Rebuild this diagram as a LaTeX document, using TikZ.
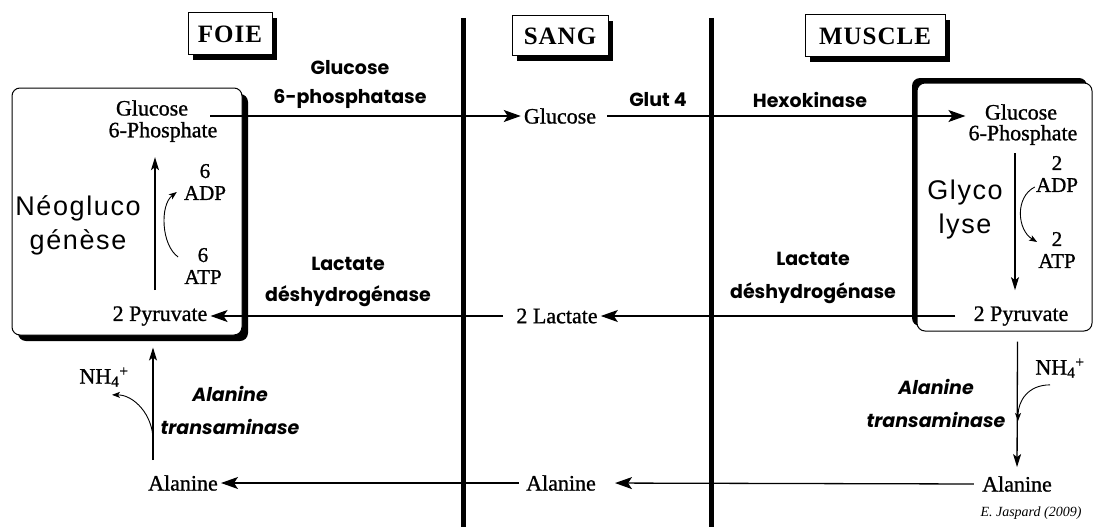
\documentclass[tikz,border=0pt]{standalone}
\usepackage{fontspec}
\setmainfont{Liberation Serif}
\newfontfamily\chemf{Liberation Serif}[FakeBold=1]
\newfontfamily\comicf{Poppins}
\newfontfamily\sansf{Liberation Sans}[LetterSpace=6]
\newfontfamily\titlef{Liberation Serif}[LetterSpace=4]
\usetikzlibrary{arrows.meta,shadows}
\begin{document}
\begin{tikzpicture}[x=1pt,y=-1pt,
  chem/.style={font=\chemf\fontsize{22}{24}\selectfont, inner sep=3pt, align=center},
  cof/.style={font=\chemf\fontsize{21}{22}\selectfont, inner sep=1pt, align=center},
  enz/.style={font=\comicf\bfseries\fontsize{19}{29}\selectfont, align=center, inner sep=0pt},
  enzi/.style={font=\comicf\bfseries\itshape\fontsize{19}{33}\selectfont, align=center, inner sep=0pt},
  proc/.style={font=\sansf\fontsize{27}{34}\selectfont, align=center, inner sep=0pt},
  title/.style={draw, line width=1pt, fill=white, font=\titlef\bfseries\fontsize{25}{26}\selectfont,
    drop shadow={shadow xshift=5pt, shadow yshift=-5pt, fill=black, opacity=1}},
  organbox/.style={draw, line width=1pt, fill=white, rounded corners=8pt},
  harr/.style={line width=1.3pt, -{Stealth[length=17pt,width=12pt,inset=4pt]}},
  varr/.style={line width=1.3pt, -{Stealth[length=13pt,width=8pt,inset=3pt]}},
  carr/.style={line width=0.9pt, -{Stealth[length=8pt,width=6pt,inset=2pt]}},
  bar/.style={line width=5pt}
]
\useasboundingbox[fill=white] (0,0) rectangle (1094,527);

% compartment separators
\draw[bar] (463,18) -- (463,527);
\draw[bar] (711,18) -- (711,527);

% organ boxes
\node[organbox, minimum width=230pt, minimum height=247pt,
  drop shadow={shadow xshift=6pt, shadow yshift=-6pt, fill=black, opacity=1}] (fbox) at (127,211.5) {};
\node[organbox, minimum width=175pt, minimum height=248pt,
  drop shadow={shadow xshift=-5pt, shadow yshift=5pt, fill=black, opacity=1}] (mbox) at (1004.5,207) {};

% titles
\node[title, minimum width=84pt, minimum height=42pt] (tfoie) at (230,34) {FOIE};
\node[title, minimum width=96pt, minimum height=40pt] (tsang) at (560,36) {SANG};
\node[title, minimum width=140pt, minimum height=42pt] (tmus) at (875,36) {MUSCLE};

% metabolites
\node[chem] (fglc) at (152,108) {Glucose};
\node[chem] (fg6) at (163,132) {6-Phosphate};
\node[chem] (sglc) at (560,116) {Glucose};
\node[chem] (mglc) at (1021,112) {Glucose};
\node[chem] (mg6) at (1023,135) {6-Phosphate};
\node[chem] (fpyr) at (160,316) {2 Pyruvate};
\node[chem] (slac) at (557,316) {2 Lactate};
\node[chem] (mpyr) at (1021,316) {2 Pyruvate};
\node[chem] (falan) at (183,483) {Alanine};
\node[chem] (salan) at (561,483) {Alanine};
\node[chem] (malan) at (1017,484) {Alanine};
\node[chem] (fnh) at (104,377) {NH\textsubscript{4}\textsuperscript{+}};
\node[chem] (mnh) at (1060,368) {NH\textsubscript{4}\textsuperscript{+}};

% cofactors
\node[cof] (fadp) at (205,182) {6\\ADP};
\node[cof] (fatp) at (203,266) {6\\ATP};
\node[cof] (madp) at (1057,174) {2\\ADP};
\node[cof] (matp) at (1057,250) {2\\ATP};

% pathways
\node[proc] (neo) at (78,225) {Néogluco\\génèse};
\node[proc] (gly) at (965,210) {Glyco\\lyse};

% enzymes
\node[enz] (e1) at (350,84) {Glucose\\6-phosphatase};
\node[enz] (e2) at (658,100) {Glut 4};
\node[enz] (e3) at (810,100) {Hexokinase};
\node[enz, font=\comicf\bfseries\fontsize{19}{31}\selectfont] (e4) at (348,282) {Lactate\\déshydrogénase};
\node[enz, font=\comicf\bfseries\fontsize{19}{33}\selectfont] (e5) at (813,278) {Lactate\\déshydrogénase};
\node[enzi] (e6) at (230,410) {Alanine\\transaminase};
\node[enzi] (e7) at (936,403) {Alanine\\transaminase};

\node[font=\itshape\fontsize{14}{16}\selectfont, inner sep=0pt] (cred) at (1031,513) {E. Jaspard (2009)};

% free ends
\coordinate (fout) at (210,116);
\coordinate (fnhstart) at (153,440);
\coordinate (mnhend) at (1018,421);

% horizontal connectors
\draw[harr] (fout) -- (sglc.west);
\draw[harr, shorten <=8pt] (sglc.east) -- (mg6.west |- sglc.east);
\draw[harr, shorten <=15pt] (mpyr.west) -- (slac.east);
\draw[harr, shorten <=10pt] (slac.west) -- (fpyr.east);
\draw[harr, shorten <=5pt, shorten >=16pt] (malan.west) -- (salan.east);
\draw[harr, shorten <=4pt] (salan.west) -- (falan.east);

% vertical connectors
\draw[varr, shorten <=13pt, shorten >=12pt] ([xshift=-5pt]fpyr.north) -- ([xshift=-8pt]fg6.south);
\draw[varr, shorten <=5pt, shorten >=13pt] ([xshift=-8pt]mg6.south) -- ([xshift=-6pt]mpyr.north);
\draw[varr, shorten <=12pt] ([xshift=-30pt]falan.north) -- ([xshift=26pt,yshift=-12pt]fbox.south);
\draw[varr, shorten >=6pt] ([xshift=13pt,yshift=-10pt]mbox.south) -- (malan.north);

% side reactions
\draw[carr] ([xshift=-5pt,yshift=9pt]fatp.west) .. controls +(-17,-12) and +(-17,13) .. ([xshift=-6pt,yshift=-10pt]fadp.west);
\draw[carr] ([yshift=-13pt]madp.west) .. controls +(-20,10) and +(-20,-12) .. ([yshift=8pt]matp.west);
\draw[carr] (fnhstart) .. controls +(0,-25) and +(22,0) .. ([xshift=8pt,yshift=-5pt]fnh.south);
\draw[carr] ([xshift=-10pt,yshift=-4pt]mnh.south) .. controls +(-22,0) and +(0,-20) .. (mnhend);
\end{tikzpicture}
\end{document}
